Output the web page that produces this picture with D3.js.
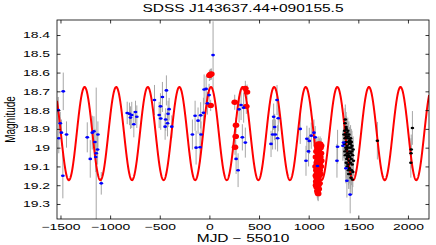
<!DOCTYPE html>
<html>
<head>
<meta charset="utf-8">
<script src="https://cdn.jsdelivr.net/npm/d3@7"></script>
<style>
  html, body { margin: 0; padding: 0; background: #fff; }
  svg { display: block; }
</style>
</head>
<body>
<svg id="chart"></svg>
<script>
// light curve data: [mjd - 55010, magnitude, error]
const bluePoints = [
	[-1522, 18.80, 0.07], [-1517, 18.95, 0.08], [-1502, 18.87, 0.06], [-1490, 18.92, 0.07],
	[-1476, 19.15, 0.12], [-1472, 18.70, 0.10], [-1439, 18.93, 0.07],
	[-1230, 18.945, 0.08], [-1200, 19.06, 0.10], [-1180, 18.92, 0.09], [-1163, 18.913, 0.08],
	[-1153, 18.97, 0.07], [-1140, 19.03, 0.35], [-1145, 19.05, 0.08], [-1126, 19.01, 0.08],
	[-1123, 18.93, 0.07], [-1089, 19.19, 0.06],
	[-828, 18.815, 0.06], [-805, 18.82, 0.06], [-795, 18.84, 0.06], [-782, 18.826, 0.07],
	[-761, 18.875, 0.07], [-744, 18.81, 0.06], [-731, 18.835, 0.06],
	[-553, 18.746, 0.08], [-506, 18.826, 0.07], [-493, 18.78, 0.07], [-490, 18.845, 0.06],
	[-473, 18.73, 0.08], [-446, 18.888, 0.07], [-440, 18.85, 0.06], [-433, 18.695, 0.08],
	[-422, 18.87, 0.07], [-416, 18.82, 0.07], [-406, 18.795, 0.06], [-379, 18.888, 0.06],
	[-171, 18.93, 0.08], [-144, 18.83, 0.08], [-134, 19.00, 0.09], [-114, 18.856, 0.07],
	[-94, 18.998, 0.08], [-88, 18.828, 0.07], [-84, 18.93, 0.07], [-60, 18.814, 0.08],
	[-53, 18.69, 0.08], [-33, 18.687, 0.07], [-20, 18.764, 0.06], [-3, 18.72, 0.06],
	[37, 18.507, 0.18],
	[269, 19.06, 0.08], [289, 19.12, 0.09], [299, 18.796, 0.07], [319, 18.773, 0.08],
	[332, 18.945, 0.07], [345, 18.787, 0.08], [362, 18.973, 0.08],
	[621, 18.98, 0.07], [637, 18.93, 0.08], [647, 18.835, 0.07], [657, 18.89, 0.07],
	[664, 18.93, 0.08], [681, 18.746, 0.08], [687, 18.95, 0.07], [694, 18.843, 0.07],
	[915, 18.90, 0.08], [973, 19.07, 0.08], [982, 18.953, 0.07], [999, 19.02, 0.08],
	[1006, 18.964, 0.07], [1026, 18.936, 0.07], [1053, 18.92, 0.07], [1066, 18.945, 0.06],
	[1089, 19.098, 0.12],
	[1285, 19.07, 0.09], [1291, 18.995, 0.09], [1345, 18.99, 0.08], [1351, 18.973, 0.08],
	[1375, 19.11, 0.08], [1385, 19.176, 0.09], [1418, 19.25, 0.10]
]

const redPoints = [
	[0, 18.615, 0.03], [10, 18.61, 0.03], [20, 18.608, 0.03], [13, 18.775, 0.03],
	[255, 18.758, 0.04], [268, 18.88, 0.04], [265, 18.94, 0.04], [258, 18.998, 0.04],
	[362, 18.684, 0.04], [379, 18.704, 0.04], [372, 18.78, 0.04],
	[1070, 19.10, 0.04], [1072, 19.15, 0.04], [1073, 19.05, 0.04], [1074, 19.20, 0.04],
	[1076, 19.18, 0.04], [1077, 19.12, 0.04], [1078, 19.02, 0.04], [1080, 19.21, 0.04],
	[1080, 19.16, 0.04], [1081, 19.08, 0.04], [1082, 19.14, 0.04], [1083, 18.99, 0.04],
	[1084, 19.19, 0.04], [1086, 19.05, 0.04], [1087, 19.23, 0.04], [1088, 19.11, 0.04],
	[1088, 19.07, 0.04], [1090, 19.01, 0.04], [1091, 19.16, 0.04], [1092, 19.24, 0.04],
	[1093, 19.07, 0.04], [1094, 19.13, 0.04], [1096, 18.98, 0.04], [1096, 19.245, 0.04],
	[1097, 19.20, 0.04], [1098, 19.04, 0.04], [1100, 19.10, 0.04], [1100, 19.17, 0.04],
	[1102, 19.22, 0.04], [1103, 19.02, 0.04], [1104, 19.09, 0.04], [1106, 19.12, 0.04],
	[1106, 19.15, 0.04], [1107, 18.99, 0.04], [1108, 19.06, 0.04], [1110, 19.19, 0.04],
	[1111, 19.12, 0.04], [1112, 19.03, 0.04], [1114, 19.08, 0.04], [1115, 18.98, 0.04],
	[1116, 19.10, 0.04], [1117, 19.14, 0.04], [1118, 19.05, 0.04], [1120, 19.00, 0.04],
	[1122, 19.10, 0.04], [1124, 19.03, 0.04], [1126, 18.99, 0.04], [1127, 19.07, 0.04]
]

const blackPoints = [
	[1356, 18.93, 0.08], [1360, 18.98, 0.08], [1362, 18.91, 0.07], [1365, 19.02, 0.08],
	[1366, 18.95, 0.07], [1367, 18.87, 0.08], [1369, 18.85, 0.08], [1370, 19.04, 0.08],
	[1373, 18.93, 0.07], [1374, 19.00, 0.08], [1376, 18.97, 0.07], [1377, 18.89, 0.08],
	[1378, 19.08, 0.08], [1379, 18.90, 0.07], [1381, 19.01, 0.08], [1382, 18.94, 0.07],
	[1384, 19.06, 0.08], [1386, 18.92, 0.07], [1387, 18.99, 0.08], [1389, 19.10, 0.08],
	[1390, 19.03, 0.08], [1390, 18.95, 0.07], [1392, 19.05, 0.08], [1394, 18.91, 0.07],
	[1395, 19.00, 0.08], [1397, 19.09, 0.08], [1398, 18.94, 0.07], [1400, 19.04, 0.08],
	[1401, 19.12, 0.08], [1402, 18.97, 0.07], [1403, 19.14, 0.08], [1405, 18.93, 0.07],
	[1406, 19.07, 0.08], [1408, 19.02, 0.07], [1410, 18.98, 0.08], [1411, 19.11, 0.08],
	[1413, 18.96, 0.07], [1414, 19.05, 0.08], [1416, 19.00, 0.07], [1418, 19.14, 0.08],
	[1419, 18.98, 0.07], [1421, 19.08, 0.08], [1422, 18.95, 0.07], [1424, 19.03, 0.08],
	[1426, 19.16, 0.08], [1427, 19.00, 0.07], [1429, 19.06, 0.08], [1430, 18.97, 0.07],
	[1432, 19.12, 0.08], [1434, 19.02, 0.07], [1436, 18.99, 0.08], [1438, 19.09, 0.08],
	[1440, 19.17, 0.08], [1442, 19.04, 0.08], [1445, 19.13, 0.08], [1448, 19.01, 0.07],
	[1451, 19.07, 0.08],
	[1692, 18.963, 0.10], [2045, 18.895, 0.09], [2033, 19.01, 0.08], [2031, 19.03, 0.08],
	[2029, 19.08, 0.08]
]

// fitted sinusoid model: [mean, amplitude, period, epoch of faintest point]
const modelParams = [18.925, 0.248, 318.2, -1416]

const xDomain = [-1535, 2212]
const yDomain = [18.32, 19.38]
const xTicks = [-1500, -1000, -500, 0, 500, 1000, 1500, 2000]
const yTicks = [18.4, 18.5, 18.6, 18.7, 18.8, 18.9, 19, 19.1, 19.2, 19.3]

const titleText = "SDSS J143637.44+090155.5"
const xLabel = "MJD \u2212 55010"
const yLabel = "Magnitude"

// layout
const width = 436
const height = 245
const margin = { left: 57, right: 7, top: 20, bottom: 26 }
const font = "'Liberation Sans', Arial, Helvetica, sans-serif"
const stretch = 1.55 // the picture is stretched horizontally
const tickLen = 3.5

const svg = d3.select("svg#chart")
	.attr("width", width)
	.attr("height", height)

const x = d3.scaleLinear().domain(xDomain).range([margin.left, width - margin.right])
const y = d3.scaleLinear().domain(yDomain).range([margin.top, height - margin.bottom])

svg.append("defs").append("clipPath")
	.attr("id", "plot-clip")
	.append("rect")
	.attr("x", margin.left)
	.attr("y", margin.top)
	.attr("width", width - margin.left - margin.right)
	.attr("height", height - margin.top - margin.bottom)

const plot = svg.append("g").attr("clip-path", "url(#plot-clip)")

// error bars for every series
const allPoints = bluePoints.concat(redPoints, blackPoints)
plot.append("g")
	.selectAll("line")
	.data(allPoints)
	.enter()
	.append("line")
	.attr("x1", d => x(d[0]))
	.attr("x2", d => x(d[0]))
	.attr("y1", d => y(d[1] - d[2]))
	.attr("y2", d => y(d[1] + d[2]))
	.style("stroke", "#a6a6a6")
	.style("stroke-width", 1)

// model curve
const [mean, amp, period, epoch] = modelParams
const curveT = d3.range(xDomain[0], xDomain[1] + 2, 2)
const line = d3.line()
	.x(t => x(t))
	.y(t => y(mean + amp * Math.cos(2 * Math.PI * (t - epoch) / period)))

plot.append("path")
	.attr("d", line(curveT))
	.style("fill", "none")
	.style("stroke", "#ff0000")
	.style("stroke-width", 2)

// markers
const drawMarkers = (data, color, rx, ry) => {
	plot.append("g")
		.selectAll("ellipse")
		.data(data)
		.enter()
		.append("ellipse")
		.attr("cx", d => x(d[0]))
		.attr("cy", d => y(d[1]))
		.attr("rx", rx)
		.attr("ry", ry)
		.style("fill", color)
}

drawMarkers(redPoints, "#ff0000", 3.3, 2.7)
drawMarkers(blackPoints, "#000000", 1.8, 1.2)
drawMarkers(bluePoints, "#0000ff", 1.9, 1.3)

// axes (ticks point inward, box all round)
const stretchText = (sel) => {
	sel.selectAll("text").each(function () {
		const t = d3.select(this)
		const tx = +t.attr("x") || 0
		t.attr("x", tx / stretch)
			.attr("transform", `scale(${stretch},1)`)
	})
}

const styleAxis = (g) => {
	g.select(".domain").remove()
	g.selectAll("line").style("stroke", "#000").style("stroke-width", 0.8)
	g.selectAll("text")
		.style("font-family", font)
		.style("font-size", "9px")
		.style("fill", "#000")
}

const xFormat = d3.format("d")
const yFormat = d3.format("~g")

svg.append("g")
	.attr("transform", `translate(0,${height - margin.bottom})`)
	.call(d3.axisBottom(x).tickValues(xTicks).tickFormat(xFormat).tickSize(-tickLen).tickPadding(5))
	.call(styleAxis)
	.call(g => g.selectAll(".tick").each(function () {
		// move the stretched labels so they stay centred on the tick
		const tick = d3.select(this)
		const tr = tick.attr("transform")
		const tx = +tr.match(/translate\(([-\d.]+)/)[1]
		tick.attr("transform", `translate(0,0)`)
		tick.select("line").attr("x1", tx).attr("x2", tx)
		tick.select("text").attr("x", tx / stretch).attr("transform", `scale(${stretch},1)`)
	}))

svg.append("g")
	.attr("transform", `translate(0,${margin.top})`)
	.call(d3.axisTop(x).tickValues(xTicks).tickFormat("").tickSize(-tickLen))
	.call(styleAxis)

svg.append("g")
	.attr("transform", `translate(${margin.left},0)`)
	.call(d3.axisLeft(y).tickValues(yTicks).tickFormat(yFormat).tickSize(-tickLen).tickPadding(7))
	.call(styleAxis)
	.call(stretchText)

svg.append("g")
	.attr("transform", `translate(${width - margin.right},0)`)
	.call(d3.axisRight(y).tickValues(yTicks).tickFormat("").tickSize(-tickLen))
	.call(styleAxis)

// frame
svg.append("rect")
	.attr("x", margin.left)
	.attr("y", margin.top)
	.attr("width", width - margin.left - margin.right)
	.attr("height", height - margin.top - margin.bottom)
	.style("fill", "none")
	.style("stroke", "#000")
	.style("stroke-width", 0.8)

// title and labels
const plotMid = (margin.left + width - margin.right) / 2

svg.append("text")
	.attr("transform", `translate(${plotMid},12) scale(${stretch},1)`)
	.attr("text-anchor", "middle")
	.text(titleText)
	.style("font-family", font)
	.style("font-size", "10px")
	.style("fill", "#000")

svg.append("text")
	.attr("transform", `translate(${plotMid},242) scale(${stretch},1)`)
	.attr("text-anchor", "middle")
	.text(xLabel)
	.style("font-family", font)
	.style("font-size", "10px")
	.style("fill", "#000")

svg.append("text")
	.attr("transform", `translate(15,${(margin.top + height - margin.bottom) / 2}) scale(${stretch},1) rotate(-90)`)
	.attr("text-anchor", "middle")
	.text(yLabel)
	.style("font-family", font)
	.style("font-size", "10px")
	.style("fill", "#000")
</script>
</body>
</html>
